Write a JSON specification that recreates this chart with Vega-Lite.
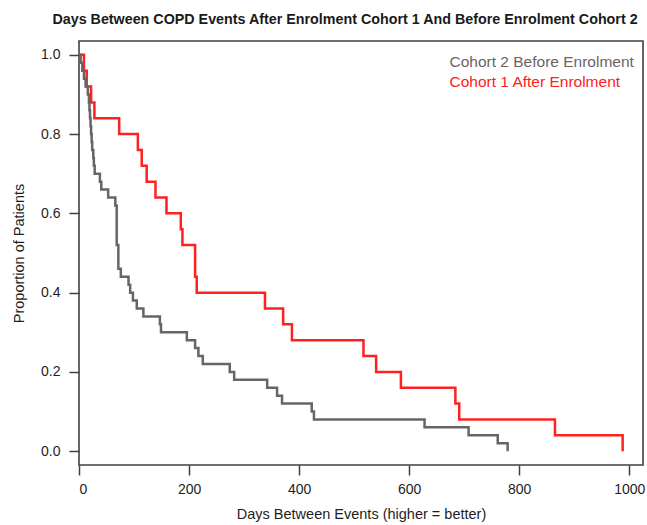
{
  "$schema": "https://vega.github.io/schema/vega-lite/v6.json",
  "width": 564,
  "height": 424,
  "autosize": {"type": "none"},
  "padding": {"left": 79, "top": 41, "right": 4, "bottom": 60},
  "background": "white",
  "title": {
    "text": "Days Between COPD Events After Enrolment Cohort 1 And Before Enrolment Cohort 2",
    "font": "Liberation Sans",
    "fontSize": 14.3,
    "fontWeight": "bold",
    "color": "#1a1a1a",
    "anchor": "middle",
    "offset": 14,
    "dx": -16
  },
  "config": {
    "font": "Liberation Sans",
    "view": {"stroke": "#404040", "strokeWidth": 1.6}
  },
  "data": {
    "values": [
      {"series": "Cohort 1 After Enrolment", "days": 0, "proportion": 1.0},
      {"series": "Cohort 1 After Enrolment", "days": 9, "proportion": 0.96},
      {"series": "Cohort 1 After Enrolment", "days": 14, "proportion": 0.92},
      {"series": "Cohort 1 After Enrolment", "days": 22, "proportion": 0.88},
      {"series": "Cohort 1 After Enrolment", "days": 28, "proportion": 0.84},
      {"series": "Cohort 1 After Enrolment", "days": 73, "proportion": 0.80},
      {"series": "Cohort 1 After Enrolment", "days": 107, "proportion": 0.76},
      {"series": "Cohort 1 After Enrolment", "days": 114, "proportion": 0.72},
      {"series": "Cohort 1 After Enrolment", "days": 123, "proportion": 0.68},
      {"series": "Cohort 1 After Enrolment", "days": 139, "proportion": 0.64},
      {"series": "Cohort 1 After Enrolment", "days": 159, "proportion": 0.60},
      {"series": "Cohort 1 After Enrolment", "days": 185, "proportion": 0.56},
      {"series": "Cohort 1 After Enrolment", "days": 188, "proportion": 0.52},
      {"series": "Cohort 1 After Enrolment", "days": 211, "proportion": 0.44},
      {"series": "Cohort 1 After Enrolment", "days": 214, "proportion": 0.40},
      {"series": "Cohort 1 After Enrolment", "days": 338, "proportion": 0.36},
      {"series": "Cohort 1 After Enrolment", "days": 371, "proportion": 0.32},
      {"series": "Cohort 1 After Enrolment", "days": 387, "proportion": 0.28},
      {"series": "Cohort 1 After Enrolment", "days": 517, "proportion": 0.24},
      {"series": "Cohort 1 After Enrolment", "days": 540, "proportion": 0.20},
      {"series": "Cohort 1 After Enrolment", "days": 585, "proportion": 0.16},
      {"series": "Cohort 1 After Enrolment", "days": 684, "proportion": 0.12},
      {"series": "Cohort 1 After Enrolment", "days": 691, "proportion": 0.08},
      {"series": "Cohort 1 After Enrolment", "days": 865, "proportion": 0.04},
      {"series": "Cohort 1 After Enrolment", "days": 988, "proportion": 0.0},
      {"series": "Cohort 2 Before Enrolment", "days": 0, "proportion": 1.0},
      {"series": "Cohort 2 Before Enrolment", "days": 3, "proportion": 0.98},
      {"series": "Cohort 2 Before Enrolment", "days": 6, "proportion": 0.96},
      {"series": "Cohort 2 Before Enrolment", "days": 9, "proportion": 0.94},
      {"series": "Cohort 2 Before Enrolment", "days": 12, "proportion": 0.92},
      {"series": "Cohort 2 Before Enrolment", "days": 16, "proportion": 0.90},
      {"series": "Cohort 2 Before Enrolment", "days": 18, "proportion": 0.88},
      {"series": "Cohort 2 Before Enrolment", "days": 19, "proportion": 0.86},
      {"series": "Cohort 2 Before Enrolment", "days": 20, "proportion": 0.84},
      {"series": "Cohort 2 Before Enrolment", "days": 21, "proportion": 0.82},
      {"series": "Cohort 2 Before Enrolment", "days": 22, "proportion": 0.80},
      {"series": "Cohort 2 Before Enrolment", "days": 23, "proportion": 0.78},
      {"series": "Cohort 2 Before Enrolment", "days": 24, "proportion": 0.76},
      {"series": "Cohort 2 Before Enrolment", "days": 26, "proportion": 0.74},
      {"series": "Cohort 2 Before Enrolment", "days": 27, "proportion": 0.72},
      {"series": "Cohort 2 Before Enrolment", "days": 28.5, "proportion": 0.70},
      {"series": "Cohort 2 Before Enrolment", "days": 38, "proportion": 0.68},
      {"series": "Cohort 2 Before Enrolment", "days": 40.5, "proportion": 0.66},
      {"series": "Cohort 2 Before Enrolment", "days": 53, "proportion": 0.64},
      {"series": "Cohort 2 Before Enrolment", "days": 66, "proportion": 0.62},
      {"series": "Cohort 2 Before Enrolment", "days": 68.5, "proportion": 0.52},
      {"series": "Cohort 2 Before Enrolment", "days": 71.5, "proportion": 0.46},
      {"series": "Cohort 2 Before Enrolment", "days": 76, "proportion": 0.44},
      {"series": "Cohort 2 Before Enrolment", "days": 90, "proportion": 0.42},
      {"series": "Cohort 2 Before Enrolment", "days": 93, "proportion": 0.40},
      {"series": "Cohort 2 Before Enrolment", "days": 98, "proportion": 0.38},
      {"series": "Cohort 2 Before Enrolment", "days": 105, "proportion": 0.36},
      {"series": "Cohort 2 Before Enrolment", "days": 117, "proportion": 0.34},
      {"series": "Cohort 2 Before Enrolment", "days": 147, "proportion": 0.32},
      {"series": "Cohort 2 Before Enrolment", "days": 149, "proportion": 0.30},
      {"series": "Cohort 2 Before Enrolment", "days": 196, "proportion": 0.28},
      {"series": "Cohort 2 Before Enrolment", "days": 211, "proportion": 0.26},
      {"series": "Cohort 2 Before Enrolment", "days": 217, "proportion": 0.24},
      {"series": "Cohort 2 Before Enrolment", "days": 225, "proportion": 0.22},
      {"series": "Cohort 2 Before Enrolment", "days": 274, "proportion": 0.20},
      {"series": "Cohort 2 Before Enrolment", "days": 282, "proportion": 0.18},
      {"series": "Cohort 2 Before Enrolment", "days": 342, "proportion": 0.16},
      {"series": "Cohort 2 Before Enrolment", "days": 360, "proportion": 0.14},
      {"series": "Cohort 2 Before Enrolment", "days": 369, "proportion": 0.12},
      {"series": "Cohort 2 Before Enrolment", "days": 423, "proportion": 0.10},
      {"series": "Cohort 2 Before Enrolment", "days": 427, "proportion": 0.08},
      {"series": "Cohort 2 Before Enrolment", "days": 628, "proportion": 0.06},
      {"series": "Cohort 2 Before Enrolment", "days": 708, "proportion": 0.04},
      {"series": "Cohort 2 Before Enrolment", "days": 761, "proportion": 0.02},
      {"series": "Cohort 2 Before Enrolment", "days": 779, "proportion": 0.0}
    ]
  },
  "mark": {"type": "line", "interpolate": "step-after", "strokeWidth": 2.5},
  "encoding": {
    "x": {
      "field": "days",
      "type": "quantitative",
      "scale": {"domain": [0, 1025], "nice": false, "zero": false},
      "axis": {
        "values": [0, 200, 400, 600, 800, 1000],
        "format": "d",
        "title": "Days Between Events (higher = better)",
        "domain": false,
        "grid": false,
        "tickSize": 10,
        "tickWidth": 1.5,
        "tickColor": "#404040",
        "labelFontSize": 14,
        "labelColor": "#1e1e1e",
        "labelPadding": 7,
        "titleFontSize": 14.5,
        "titleFontWeight": "normal",
        "titleColor": "#1e1e1e",
        "titlePadding": 11
      }
    },
    "y": {
      "field": "proportion",
      "type": "quantitative",
      "scale": {"domain": [-0.035, 1.035], "nice": false, "zero": false},
      "axis": {
        "values": [0, 0.2, 0.4, 0.6, 0.8, 1.0],
        "format": ".1f",
        "title": "Proportion of Patients",
        "domain": false,
        "grid": false,
        "tickSize": 10,
        "tickWidth": 1.5,
        "tickColor": "#404040",
        "labelFontSize": 14,
        "labelColor": "#1e1e1e",
        "labelPadding": 9,
        "titleFontSize": 14.5,
        "titleFontWeight": "normal",
        "titleColor": "#1e1e1e",
        "titlePadding": 14
      }
    },
    "color": {
      "field": "series",
      "type": "nominal",
      "scale": {
        "domain": ["Cohort 2 Before Enrolment", "Cohort 1 After Enrolment"],
        "range": ["#6b6464", "#ff2020"]
      },
      "legend": {
        "orient": "none",
        "legendX": 355,
        "legendY": 13,
        "title": null,
        "padding": 0,
        "symbolSize": 0,
        "symbolStrokeWidth": 0,
        "symbolOpacity": 0,
        "labelOffset": 0,
        "labelFontSize": 15.5,
        "rowPadding": 3.5,
        "labelLimit": 300,
        "encode": {
          "labels": {"update": {"fill": {"scale": "color", "field": "value"}}}
        }
      }
    }
  }
}
